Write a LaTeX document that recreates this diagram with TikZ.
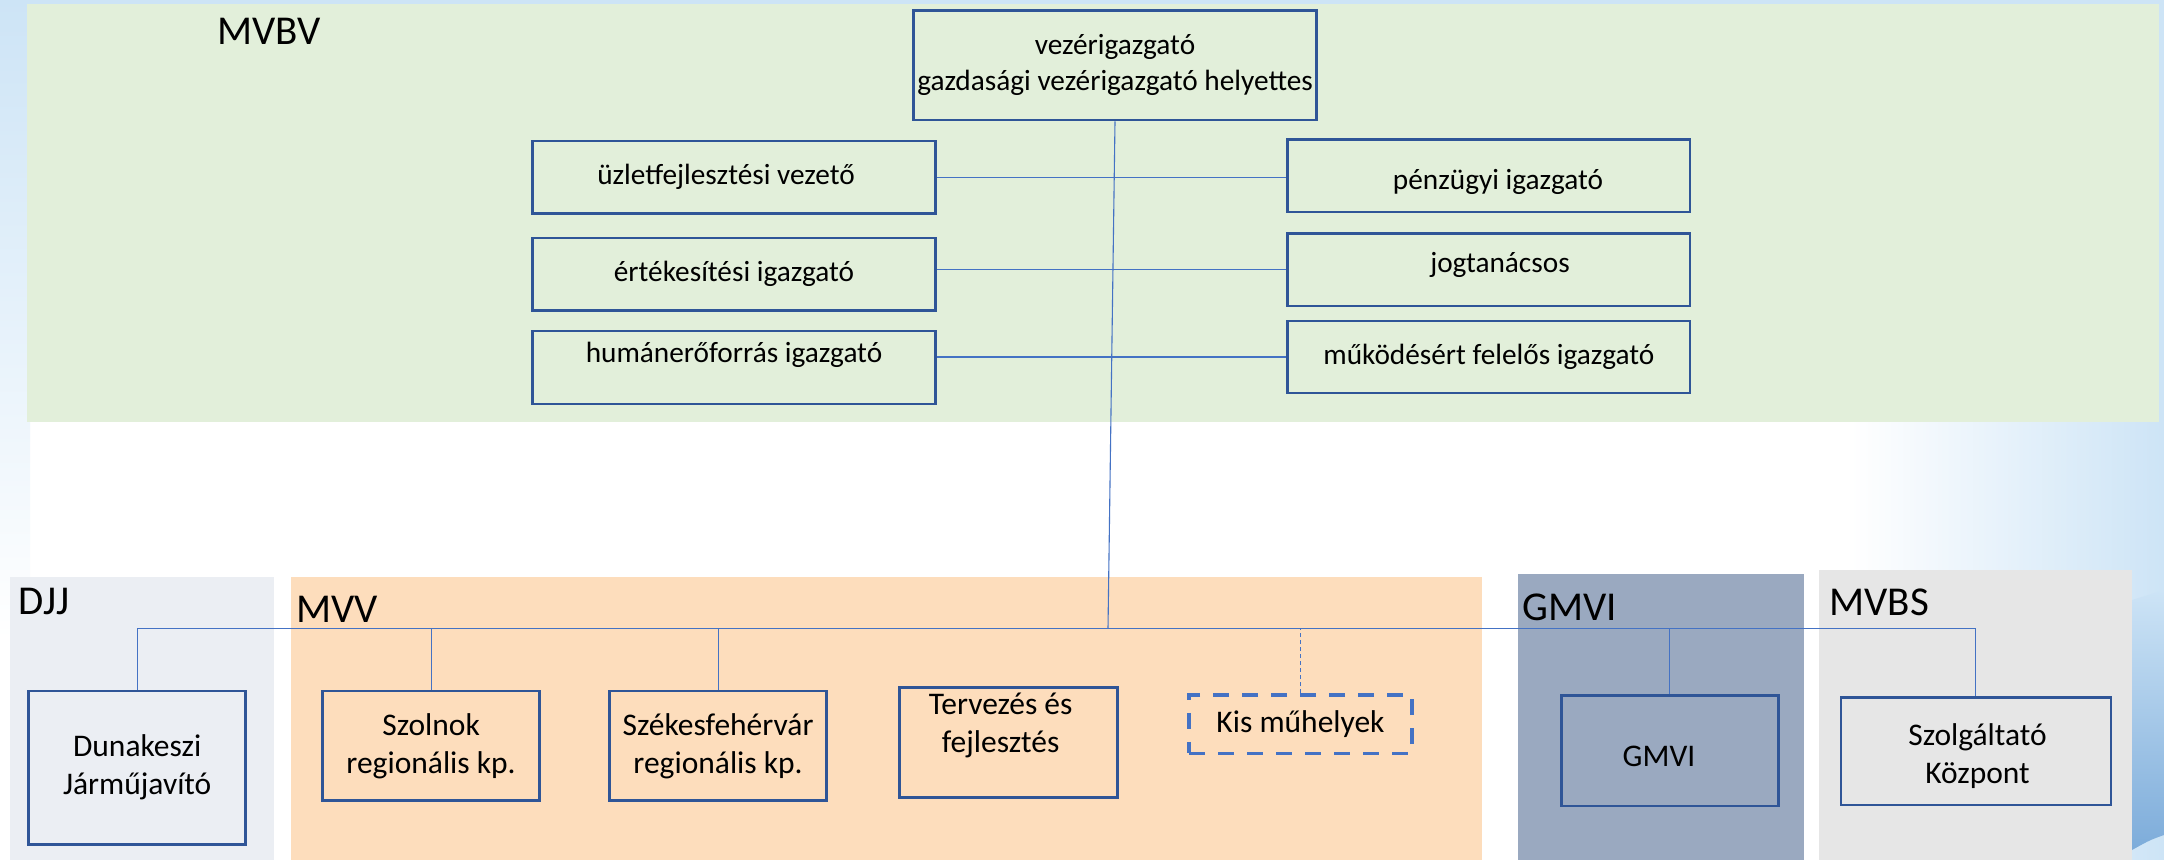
\documentclass[tikz,border=0pt]{standalone}
\usepackage{fontspec}
\setmainfont{Carlito}
\usepackage{tikz}
\definecolor{bgblue}{RGB}{205,228,246}
\definecolor{bandblue}{RGB}{125,172,218}
\definecolor{mvbvgreen}{RGB}{226,239,218}
\definecolor{djjgrey}{RGB}{235,238,243}
\definecolor{mvvpeach}{RGB}{253,221,188}
\definecolor{gmviblue}{RGB}{154,169,192}
\definecolor{mvbsgrey}{RGB}{230,230,230}
\definecolor{boxblue}{RGB}{47,85,151}
\definecolor{linkblue}{RGB}{68,114,196}

\begin{document}
\begin{tikzpicture}[x=0.5pt,y=-0.5pt]
			\tikzstyle{every node}+=[inner sep=0pt]
			\tikzstyle{box}=[draw=boxblue, line width=1.3pt, rectangle, align=center, font=\fontsize{14.65pt}{18pt}\selectfont]
			\tikzstyle{boxtext}=[align=center, font=\fontsize{14.65pt}{18pt}\selectfont]
			\tikzstyle{unit}=[draw=boxblue, line width=1.3pt, rectangle, align=center, font=\fontsize{15.75pt}{19pt}\selectfont]
			\tikzstyle{unittext}=[align=center, font=\fontsize{15.75pt}{19pt}\selectfont]
			\tikzstyle{region}=[anchor=base west, font=\fontsize{20.5pt}{24pt}\selectfont]
			\tikzstyle{link}=[linkblue, line width=0.55pt]
			\useasboundingbox (0,0) rectangle (2164,860);
			\fill [white] (0,0) rectangle (2164,860);
			\shade [top color=bgblue, bottom color=white] (0,0) rectangle (30,640);
			\shade [left color=white, right color=bgblue] (1850,422) rectangle (2164,860);
			\fill [bgblue] (0,0) rectangle (2164,5);
			\fill [bgblue] (2155,0) rectangle (2164,422);
			\shade [top color=bgblue, bottom color=bandblue] (2132,600) .. controls (2145,596) .. (2164,590) -- (2164,835) .. controls (2150,840) .. (2132,850) -- cycle;
			\fill [mvbvgreen] (27,4) rectangle (2159,422);
			\fill [djjgrey] (10,577) rectangle (274,860);
			\fill [mvvpeach] (291,577) rectangle (1482,860);
			\fill [gmviblue] (1518,574) rectangle (1804,860);
			\fill [mvbsgrey] (1819,570) rectangle (2132,860);
			\node [region] (mvbv) at (217,45) {MVBV};
			\node [region] (djj) at (18,615) {DJJ};
			\node [region] (mvv) at (296,623) {MVV};
			\node [region] (gmvilabel) at (1522,621) {GMVI};
			\node [region] (mvbs) at (1829,616) {MVBS};
			\node [box, minimum width=201.25pt, minimum height=54.7pt] (vig) at (1115,65.4) {vezérigazgató\\gazdasági vezérigazgató helyettes};
			\node [box, minimum width=201.25pt, minimum height=36.35pt] (uzlet) at (734,177.4) {};
			\node [boxtext] (uzlettext) at (726,177) {üzletfejlesztési vezető};
			\node [box, minimum width=201.25pt, minimum height=36.35pt] (ertek) at (734,274.3) {értékesítési igazgató};
			\node [box, minimum width=201.25pt, minimum height=36.5pt] (human) at (734,367.5) {};
			\node [boxtext] (humantext) at (734,355) {humánerőforrás igazgató};
			\node [box, minimum width=201.25pt, minimum height=36.35pt] (penz) at (1488.8,175.7) {};
			\node [boxtext] (penztext) at (1498,182) {pénzügyi igazgató};
			\node [box, minimum width=201.25pt, minimum height=36.15pt] (jog) at (1488.8,269.8) {};
			\node [boxtext] (jogtext) at (1500,265) {jogtanácsos};
			\node [box, minimum width=201.25pt, minimum height=36pt] (mukod) at (1488.8,357) {működésért felelős igazgató};
			\node [unit, minimum width=108.5pt, minimum height=76.65pt] (dk) at (137.2,767.7) {Dunakeszi\\Járműjavító};
			\node [unit, minimum width=108.5pt, minimum height=54.85pt] (szol) at (431.1,745.8) {Szolnok\\regionális kp.};
			\node [unit, minimum width=108.5pt, minimum height=54.85pt] (szfv) at (718.1,745.8) {Székesfehérvár\\regionális kp.};
			\node [unit, minimum width=108.9pt, minimum height=54.8pt] (terv) at (1008.3,742.5) {};
			\node [unittext] (tervtext) at (1000.6,725.9) {Tervezés és\\fejlesztés};
			\node [unit, draw=linkblue, line width=1.8pt, dash pattern=on 8pt off 6.5pt, minimum width=111.45pt, minimum height=29.15pt] (kis) at (1300.5,724.2) {Kis műhelyek};
			\node [unit, minimum width=108.55pt, minimum height=55.15pt] (gmvi) at (1669.9,750.9) {};
			\node [unittext] (gmvitext) at (1659,756) {GMVI};
			\node [unit, minimum width=135pt, minimum height=53.85pt] (szk) at (1975.8,751.2) {};
			\node [unittext] (szktext) at (1977.5,755.9) {Szolgáltató\\Központ};
			\coordinate (bus) at (1108,628.3);
			\draw [link] (vig.south) -- (bus);
			\draw [link] (uzlet.east) -- (uzlet.east -| penz.west);
			\draw [link] (jog.west) -- (jog.west -| ertek.east);
			\draw [link] (mukod.west) -- (mukod.west -| human.east);
			\draw [link] (dk.north) |- (bus) -| (szk.north);
			\draw [link] (szol.north) -- (szol.north |- bus);
			\draw [link] (szfv.north) -- (szfv.north |- bus);
			\draw [link] (gmvi.north) -- (gmvi.north |- bus);
			\draw [link, dash pattern=on 2pt off 1.5pt] (kis.north) -- (kis.north |- bus);
\end{tikzpicture}
\end{document}
